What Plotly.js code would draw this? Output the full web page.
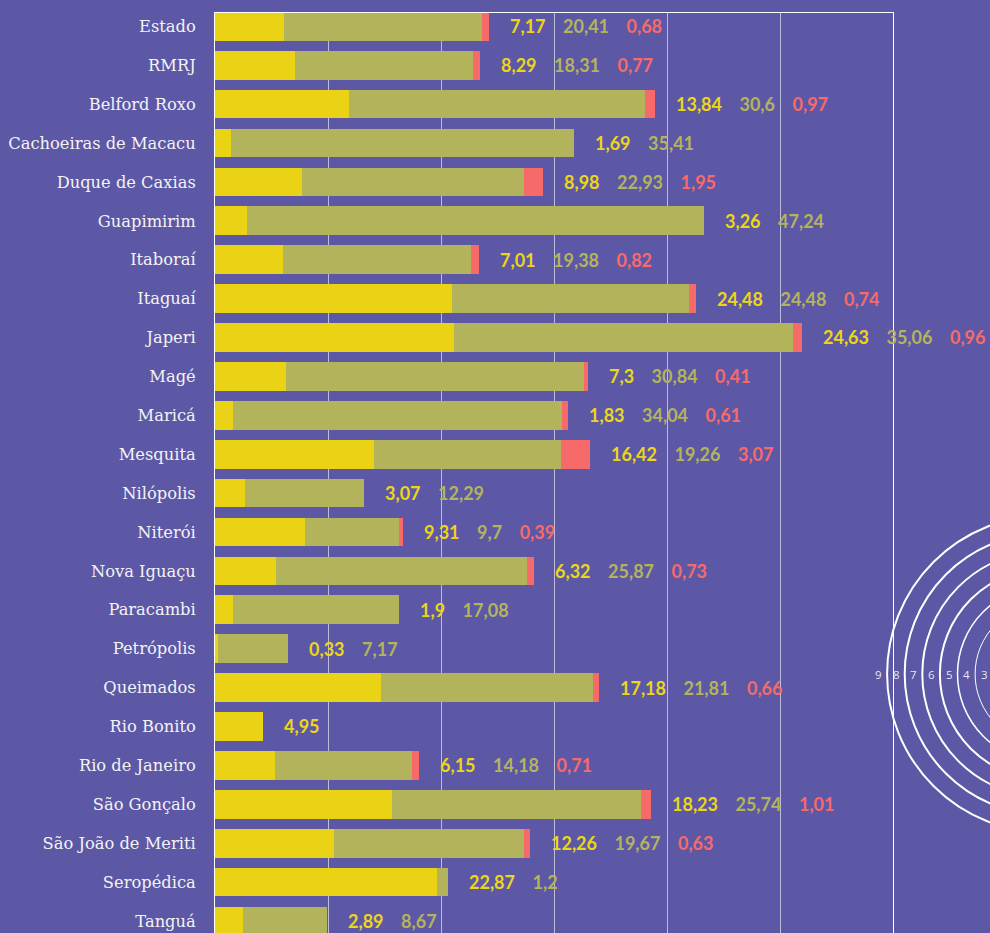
<!DOCTYPE html>
<html><head><meta charset="utf-8">
<script src="https://cdn.plot.ly/plotly-3.0.1.min.js"></script>
<style>html,body{margin:0;padding:0;background:#5c58a6;}#chart{width:990px;height:933px;}</style>
</head><body><div id="chart"></div>
<script>
const categories = ['Estado','RMRJ','Belford Roxo','Cachoeiras de Macacu','Duque de Caxias','Guapimirim','Itaboraí','Itaguaí','Japeri','Magé','Maricá','Mesquita','Nilópolis','Niterói','Nova Iguaçu','Paracambi','Petrópolis','Queimados','Rio Bonito','Rio de Janeiro','São Gonçalo','São João de Meriti','Seropédica','Tanguá'];
const yellowVals = [7.17,8.29,13.84,1.69,8.98,3.26,7.01,24.48,24.63,7.3,1.83,16.42,3.07,9.31,6.32,1.9,0.33,17.18,4.95,6.15,18.23,12.26,22.87,2.89];
const oliveVals = [20.41,18.31,30.6,35.41,22.93,47.24,19.38,24.48,35.06,30.84,34.04,19.26,12.29,9.7,25.87,17.08,7.17,21.81,null,14.18,25.74,19.67,1.2,8.67];
const redVals = [0.68,0.77,0.97,null,1.95,null,0.82,0.74,0.96,0.41,0.61,3.07,null,0.39,0.73,null,null,0.66,null,0.71,1.01,0.63,null,null];
const ringLabels = [9,8,7,6,5,4,3];

const BG = '#5c58a6';
const C_Y = '#e9d314', C_O = '#b2b35a', C_R = '#f66a6a';
const T_Y = '#ecd619', T_O = '#b4b45c', T_R = '#f86a6a';

function fmt(v){ return String(v).replace('.', ','); }

const traces = [
  {name:'y', type:'bar', orientation:'h', y:categories, x:yellowVals, marker:{color:C_Y}, hoverinfo:'skip'},
  {name:'o', type:'bar', orientation:'h', y:categories, x:oliveVals, marker:{color:C_O}, hoverinfo:'skip'},
  {name:'r', type:'bar', orientation:'h', y:categories, x:redVals, marker:{color:C_R}, hoverinfo:'skip'}
];

const gap = '\u00a0\u00a0\u00a0\u00a0';
const annotations = categories.map((c,i)=>{
  const total = (yellowVals[i]||0)+(oliveVals[i]||0)+(redVals[i]||0);
  const parts = [];
  if (yellowVals[i]!=null) parts.push('<span style="color:'+T_Y+'">'+fmt(yellowVals[i])+'</span>');
  if (oliveVals[i]!=null) parts.push('<span style="color:'+T_O+'">'+fmt(oliveVals[i])+'</span>');
  if (redVals[i]!=null) parts.push('<span style="color:'+T_R+'">'+fmt(redVals[i])+'</span>');
  return {x: total, y: c, xref:'x', yref:'y', text: parts.join(gap), showarrow:false,
    xanchor:'left', yanchor:'middle', xshift:19, font:{family:'Lato', size:18, weight:700, color:T_Y}};
});

// decorative concentric rings at the right edge
const W = 990, H = 933, L = 215, R = 97, T = 13, B = 0;
const pw = W-L-R, ph = H-T-B;
const cx = 1045.5, cy = 674, step = 17.6;
const px2x = p => (p-L)/pw, py2y = p => (H-B-p)/ph;
const shapes = [];
ringLabels.forEach(n=>{
  const r = n*step;
  shapes.push({type:'circle', xref:'paper', yref:'paper', x0:px2x(cx-r), x1:px2x(cx+r), y0:py2y(cy+r), y1:py2y(cy-r),
    line:{color:'#ffffff', width: n>=6 ? 2 : (n===5 ? 1.5 : 1)}, layer:'above'});
  annotations.push({xref:'paper', yref:'paper', x:px2x(cx-r-8.5), y:py2y(cy), text:String(n), showarrow:false,
    xanchor:'center', yanchor:'middle', font:{family:'Open Sans', size:11.5, color:'rgba(255,255,255,0.88)'}});
});

const layout = {
  width: W, height: H,
  margin:{l:L, r:R, t:T, b:B, pad:0},
  paper_bgcolor: BG, plot_bgcolor: BG,
  barmode:'stack', bargap:0.262,
  showlegend:false,
  xaxis:{range:[0,70], dtick:70/6, tick0:0, showticklabels:false, ticks:'', showgrid:true,
    gridcolor:'rgba(255,255,255,0.6)', gridwidth:1, zeroline:false, showline:true, linecolor:'#ffffff', linewidth:1, mirror:true, fixedrange:true},
  yaxis:{type:'category', range:[23.31,-0.342], showgrid:false, zeroline:false, showline:true, linecolor:'#ffffff', linewidth:1, mirror:true,
    ticks:'', ticklabelstandoff:15, tickfont:{family:'DejaVu Serif', size:16.3, color:'#f3f3f3'}, fixedrange:true},
  annotations: annotations,
  shapes: shapes
};

Plotly.newPlot('chart', traces, layout, {displayModeBar:false, staticPlot:true});
</script>
</body></html>
